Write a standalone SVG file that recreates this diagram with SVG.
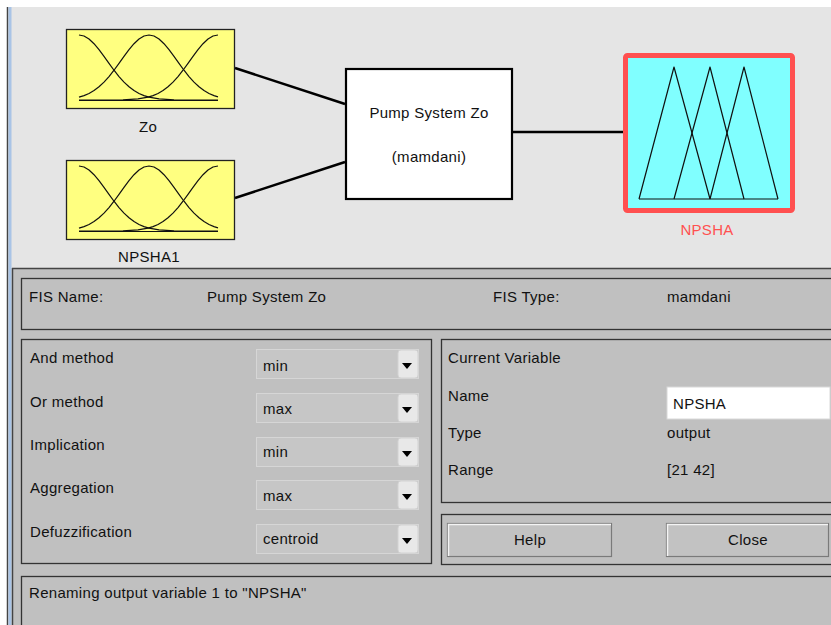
<svg xmlns="http://www.w3.org/2000/svg" xmlns:xlink="http://www.w3.org/1999/xlink" width="831" height="625" viewBox="0 0 831 625">
  <style>
    text { font-family: "Liberation Sans", Arial, sans-serif; font-size: 15px; letter-spacing: 0.3px; fill: #111; }
    .mid { text-anchor: middle; }
    .mf { fill: none; stroke: #111; stroke-width: 1.2; stroke-linejoin: round; }
    .frame { fill: none; stroke: #333; stroke-width: 1.3; }
    .popup { fill: #c6c6c6; stroke: #d6d6d6; stroke-width: 1; }
    .drop { fill: #e8e8e8; stroke: #d2d2d2; stroke-width: 1; }
    .btn { fill: #c2c2c2; stroke: #7a7a7a; stroke-width: 1.2; }
    .btnhi { fill: none; stroke: #f4f4f4; stroke-width: 1.5; }
    .wire { fill: none; stroke: #000; stroke-width: 2.5; }
  </style>
  <defs>
    <!-- three gaussian membership functions, 139 x 65 drawing area -->
    <g id="gaussSet">
      <polyline class="mf" points="0,0 5,1.03 10,4.02 15,8.69 20,14.64 25,21.37 30,28.39 35,35.24 40,41.57 45,47.13 50,51.8 55,55.56 60,58.45 65,60.6 70,62.15 80,63.9 95,64.8 110,65 139,65"/>
      <polyline class="mf" points="0,62.15 5,60.6 10,58.45 15,55.56 20,51.8 25,47.13 30,41.57 35,35.24 40,28.39 45,21.37 50,14.64 55,8.69 60,4.02 65,1.03 70,0 75,1.03 80,4.02 85,8.69 90,14.64 95,21.37 100,28.39 105,35.24 110,41.57 115,47.13 120,51.8 125,55.56 130,58.45 135,60.6 139,61.9"/>
      <polyline class="mf" points="139,0 134,1.03 129,4.02 124,8.69 119,14.64 114,21.37 109,28.39 104,35.24 99,41.57 94,47.13 89,51.8 84,55.56 79,58.45 74,60.6 69,62.15 59,63.9 44,64.8 29,65 0,65"/>
      <line class="mf" x1="0" y1="65.5" x2="139" y2="65.5"/>
    </g>
    <!-- popup menu arrow button -->
    <g id="dropBtn">
      <rect class="drop" x="0" y="1" width="20" height="28" rx="3"/>
      <polygon points="4,14 14,14 9,20" fill="#000"/>
    </g>
  </defs>

  <!-- window background -->
  <rect x="0" y="0" width="831" height="625" fill="#ffffff"/>
  <rect x="7" y="7" width="824" height="618" fill="#e5e5e5"/>
  <line x1="7.5" y1="7" x2="7.5" y2="625" stroke="#444" stroke-width="1.5"/>
  <line x1="10" y1="7" x2="10" y2="625" stroke="#a9c4e6" stroke-width="3"/>

  <!-- lower control panel -->
  <rect x="12" y="268" width="819" height="357" fill="#c0c0c0"/>
  <line x1="12" y1="268.5" x2="831" y2="268.5" stroke="#444" stroke-width="1.5"/>
  <line x1="12.5" y1="268" x2="12.5" y2="625" stroke="#444" stroke-width="1.5"/>

  <!-- connectors -->
  <g id="connectors">
    <line class="wire" x1="235" y1="68" x2="345" y2="104"/>
    <line class="wire" x1="235" y1="198" x2="345" y2="162"/>
    <line class="wire" x1="513" y1="132" x2="623" y2="132"/>
  </g>

  <!-- input variable: Zo -->
  <g id="input-zo">
    <rect x="66.5" y="29.5" width="168" height="79" fill="#ffff80" stroke="#222" stroke-width="1.3"/>
    <use xlink:href="#gaussSet" transform="translate(79,35)"/>
    <text class="mid" x="148" y="132">Zo</text>
  </g>

  <!-- input variable: NPSHA1 -->
  <g id="input-npsha1">
    <rect x="66.5" y="160.5" width="168" height="79" fill="#ffff80" stroke="#222" stroke-width="1.3"/>
    <use xlink:href="#gaussSet" transform="translate(79,166)"/>
    <text class="mid" x="149" y="262">NPSHA1</text>
  </g>

  <!-- fuzzy inference system -->
  <g id="fis-system">
    <rect x="346" y="69" width="166" height="130" fill="#ffffff" stroke="#000" stroke-width="2.2"/>
    <text class="mid" x="429" y="118">Pump System Zo</text>
    <text class="mid" x="429" y="162">(mamdani)</text>
  </g>

  <!-- output variable: NPSHA (selected) -->
  <g id="output-npsha">
    <rect x="625.5" y="55.5" width="167" height="155" rx="2" fill="#80ffff" stroke="#ff5050" stroke-width="5"/>
    <polyline class="mf" points="639,199 674,67 710,199"/>
    <polyline class="mf" points="674,199 710,67 744,199"/>
    <polyline class="mf" points="710,199 744,67 778,199"/>
    <line class="mf" x1="639" y1="199" x2="778" y2="199"/>
    <text class="mid" x="707" y="235" style="fill:#ff5050">NPSHA</text>
  </g>

  <!-- FIS name / type strip -->
  <g id="fis-info">
    <rect class="frame" x="21.5" y="278.5" width="830" height="51"/>
    <text x="29" y="302">FIS Name:</text>
    <text x="207" y="302">Pump System Zo</text>
    <text x="493" y="302">FIS Type:</text>
    <text x="667" y="302">mamdani</text>
  </g>

  <!-- method selection -->
  <g id="methods">
    <rect class="frame" x="21.5" y="339.5" width="410" height="224"/>
    <text x="30" y="363">And method</text>
    <rect class="popup" x="256.5" y="349.5" width="162" height="29"/>
    <text x="263" y="371">min</text>
    <use xlink:href="#dropBtn" transform="translate(398,349)"/>

    <text x="30" y="407">Or method</text>
    <rect class="popup" x="256.5" y="393.5" width="162" height="29"/>
    <text x="263" y="414">max</text>
    <use xlink:href="#dropBtn" transform="translate(398,393)"/>

    <text x="30" y="450">Implication</text>
    <rect class="popup" x="256.5" y="437.5" width="162" height="29"/>
    <text x="263" y="457">min</text>
    <use xlink:href="#dropBtn" transform="translate(398,437)"/>

    <text x="30" y="493">Aggregation</text>
    <rect class="popup" x="256.5" y="480.5" width="162" height="29"/>
    <text x="263" y="501">max</text>
    <use xlink:href="#dropBtn" transform="translate(398,480)"/>

    <text x="30" y="537">Defuzzification</text>
    <rect class="popup" x="256.5" y="524.5" width="162" height="29"/>
    <text x="263" y="544">centroid</text>
    <use xlink:href="#dropBtn" transform="translate(398,524)"/>
  </g>

  <!-- current variable -->
  <g id="current-variable">
    <rect class="frame" x="441.5" y="339.5" width="410" height="163"/>
    <text x="448" y="363">Current Variable</text>
    <text x="448" y="401">Name</text>
    <rect x="667" y="387" width="163" height="32" fill="#ffffff" stroke="#d8d8d8" stroke-width="1"/>
    <text x="673" y="409">NPSHA</text>
    <text x="448" y="438">Type</text>
    <text x="667" y="438">output</text>
    <text x="448" y="475">Range</text>
    <text x="667" y="475">[21 42]</text>
  </g>

  <!-- help / close buttons -->
  <g id="buttons">
    <rect class="frame" x="441.5" y="514.5" width="410" height="50"/>
    <rect class="btn" x="447.5" y="523.5" width="164" height="33"/>
    <polyline class="btnhi" points="448.5,556 448.5,524.5 611,524.5"/>
    <text class="mid" x="530" y="545">Help</text>
    <rect class="btn" x="666.5" y="523.5" width="162" height="33"/>
    <polyline class="btnhi" points="667.5,556 667.5,524.5 828,524.5"/>
    <text class="mid" x="748" y="545">Close</text>
  </g>

  <!-- status message -->
  <g id="status">
    <rect class="frame" x="21.5" y="576.5" width="830" height="70"/>
    <text x="29" y="598">Renaming output variable 1 to "NPSHA"</text>
  </g>
</svg>
